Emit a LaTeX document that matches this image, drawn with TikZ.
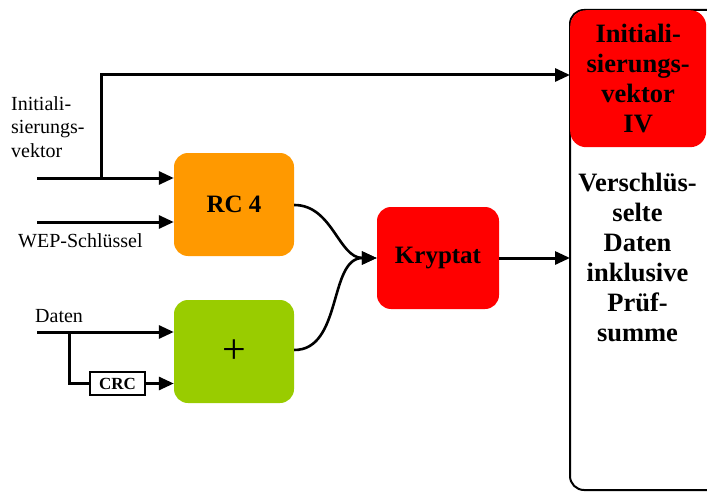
\documentclass[tikz,border=0pt]{standalone}
\usepackage{fontspec}
\setmainfont{Liberation Serif}
\usetikzlibrary{arrows.meta,positioning}
\definecolor{rcorange}{RGB}{255,153,0}
\definecolor{plusgreen}{RGB}{153,204,0}
\definecolor{kryptred}{RGB}{255,0,0}
\tikzset{
>={Triangle[length=15pt,width=13pt]},
block/.style={rounded corners=14pt,minimum width=120pt,minimum height=103pt,
  font=\fontsize{25}{28}\selectfont\bfseries},
pfeil/.style={->,line width=3pt},
leitung/.style={line width=3pt},
beschr/.style={font=\fontsize{20}{23.5}\selectfont,align=left,inner sep=0pt},
rechts/.style={align=center,inner sep=0pt,font=\fontsize{26.5}{30}\selectfont\bfseries}}

\begin{document}
\begin{tikzpicture}[x=1pt,y=-1pt]
\useasboundingbox (0,0) rectangle (707,495);
\clip (0,0) rectangle (707,495);

% Bloecke
\node[block,fill=rcorange] (rc4) at (234,204.5) {RC 4};
\node[block,fill=plusgreen,font=\fontsize{42}{42}\selectfont] (plus) at (234,351.5) {+};
\node[block,fill=kryptred,minimum width=122pt,minimum height=102pt] (kryptat) at (438,258) {Kryptat};
\node[draw,line width=1.8pt,minimum width=55pt,minimum height=23pt,inner sep=0pt,
  font=\fontsize{17}{17}\selectfont\bfseries] (crc) at (117.5,383.5) {CRC};

% rechte Spalte
\draw[line width=2pt,rounded corners=14pt] (740,490) -- (570,490) -- (570,10) -- (740,10);
\node[rechts,fill=kryptred,rounded corners=16pt,minimum width=136pt,minimum height=137pt,
  anchor=north west] (ivhead) at (570,10) {Initiali-\\sierungs-\\vektor\\IV};
\node[rechts,anchor=north] (daten) at (637.5,173) {Verschlüs-\\selte\\Daten\\inklusive\\Prüf-\\summe};

% Beschriftungen links
\node[beschr,anchor=north west] (ivtext) at (11,96) {Initiali-\\sierungs-\\vektor};
\node[beschr,anchor=north west] (weptext) at (18,233) {WEP-Schlüssel};
\node[beschr,anchor=north west] (datentext) at (35,309) {Daten};

\coordinate (ivin) at (37,178);
\coordinate (abzw) at (101,178);
\coordinate (wepin) at (37,222);
\coordinate (datin) at (37,332);
\coordinate (crcabzw) at (69,332);

% Leitungen
\draw[pfeil] (ivin) -- (ivin -| rc4.west);
\draw[pfeil] (abzw) -- (101,75) -- (570,75);
\draw[pfeil] (wepin) -- (wepin -| rc4.west);
\draw[pfeil] (datin) -- (datin -| plus.west);
\draw[leitung] (crcabzw) |- (crc.west);
\draw[pfeil] (crc.east) -- (crc.east -| plus.west);
\draw[pfeil,line width=2.6pt] (rc4.east |- 0,205) to[out=0,in=180] (kryptat.west);
\draw[pfeil,line width=2.6pt] (plus.east |- 0,350) to[out=0,in=180] (kryptat.west);
\draw[pfeil] (kryptat.east) -- (570,258);
\end{tikzpicture}
\end{document}
